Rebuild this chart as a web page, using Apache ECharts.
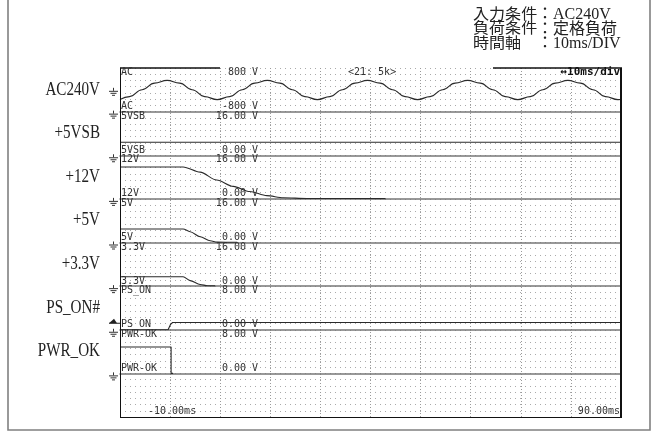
<!DOCTYPE html>
<html><head><meta charset="utf-8">
<script src="https://cdn.jsdelivr.net/npm/echarts@6/dist/echarts.min.js"></script>
<style>html,body{margin:0;padding:0;background:#fff}#c{width:654px;height:432px}</style>
</head><body><div id="c"></div>
<script>
// ---------------- data ----------------
const channelNames = ['AC240V', '+5VSB', '+12V', '+5V', '+3.3V', 'PS_ON#', 'PWR_OK'];
const scopeTags = ['AC', '5VSB', '12V', '5V', '3.3V', 'PS_ON', 'PWR-OK'];
const scaleTopLabels = ['800 V', '16.00 V', '16.00 V', '16.00 V', '16.00 V', '8.00 V', '8.00 V'];
const scaleBottomLabels = ['-800 V', '0.00 V', '0.00 V', '0.00 V', '0.00 V', '0.00 V', '0.00 V'];
const scaleMin = [-800, 0, 0, 0, 0, 0, 0];
const scaleMax = [800, 16, 16, 16, 16, 8, 8];
const timeTickLabels = ['-10.00ms', '90.00ms'];
const conditionLabels = ['入力条件', '負荷条件', '時間軸'];
const conditionValues = ['：AC240V', '：定格負荷', '：10ms/DIV'];
const sampleInfo = '<21: 5k>';
const timeDivLabel = '\u219410ms/div';

// time (ms) / voltage (V)
const acTime = [-10, -8.1, -5.6, -3.1, -0.6, 1.9, 4.4, 6.9, 9.4, 11.9, 14.4, 16.9, 19.4, 21.9, 24.4, 26.9, 29.4, 31.9, 34.4, 36.9, 39.4, 41.9, 44.4, 46.9, 49.4, 51.9, 54.4, 56.9, 59.4, 61.9, 64.4, 66.9, 69.4, 71.9, 74.4, 76.9, 79.4, 81.9, 84.4, 86.9, 89.4, 90];
const acVolt = [-355, -250, 0, 245, 345, 245, 0, -250, -360, -250, 0, 245, 345, 245, 0, -250, -360, -250, 0, 245, 345, 245, 0, -250, -360, -250, 0, 245, 345, 245, 0, -250, -360, -250, 0, 245, 345, 245, 0, -250, -360, -355];

const vsbTime = [-10, 90];
const vsbVolt = [4.75, 4.75];

const v12Time = [-10, 2.6, 6.0, 9.3, 12.6, 15.9, 19.3, 22.6, 27.3, 43.0];
const v12Volt = [11.7, 11.7, 9.8, 6.9, 4.6, 2.7, 1.2, 0.4, 0.15, 0.1];

const v5Time = [-10, 2.6, 4.0, 6.0, 8.0, 9.4, 13.4];
const v5Volt = [4.95, 4.95, 3.96, 2.1, 0.62, 0.12, 0.08];

const v33Time = [-10, 2.6, 4.0, 6.0, 7.5, 9.0];
const v33Volt = [3.45, 3.45, 2.03, 0.6, 0.15, 0.1];

const psTime = [-10, -0.4, 0.1, 0.5, 90];
const psVolt = [0, 0, 1.0, 1.33, 1.33];

const pwrTime = [-10, 0.2, 0.2, 0.6];
const pwrVolt = [4.84, 4.84, 0, 0];

// ---------------- layout ----------------
const PL = 120, PR = 621, PT = 68, PB = 417;
const bandH = (PB - PT) / 8;
const bands = [0, 1, 2, 3, 4, 5, 6].map(k => [PT + k * bandH, PT + (k + 1) * bandH]);

const pairs = (t, v) => t.map((x, i) => [x, v[i]]);
const traces = [
  { d: pairs(acTime, acVolt), smooth: 0.45 },
  { d: pairs(vsbTime, vsbVolt), smooth: false },
  { d: pairs(v12Time, v12Volt), smooth: 0.3 },
  { d: pairs(v5Time, v5Volt), smooth: 0.3 },
  { d: pairs(v33Time, v33Volt), smooth: 0.3 },
  { d: pairs(psTime, psVolt), smooth: false },
  { d: pairs(pwrTime, pwrVolt), smooth: false }
];

const grid = [{ left: PL, top: PT, width: PR - PL, height: PB - PT }];
const xAxis = [{
  gridIndex: 0, type: 'value', min: -10, max: 90, interval: 10,
  axisLine: { show: false }, axisTick: { show: false }, axisLabel: { show: false },
  splitLine: { show: true, lineStyle: { color: '#9a9a9a', width: 1, type: [1, 2] } }
}];
const yAxis = [{
  gridIndex: 0, type: 'value', min: 0, max: 56, interval: 1,
  axisLine: { show: false }, axisTick: { show: false }, axisLabel: { show: false },
  splitLine: { show: true, lineStyle: { color: '#aaaaaa', width: 1, type: [1, 4] } }
}];
const series = [];
bands.forEach((b, i) => {
  grid.push({ left: PL, top: b[0], width: PR - PL, height: b[1] - b[0] });
  xAxis.push({
    gridIndex: i + 1, type: 'value', min: -10, max: 90,
    axisLine: { show: true, onZero: false, lineStyle: { color: '#777', width: 1.5 } },
    axisTick: { show: false }, axisLabel: { show: false }, splitLine: { show: false }
  });
  yAxis.push({ gridIndex: i + 1, type: 'value', min: scaleMin[i], max: scaleMax[i], show: false });
  series.push({
    type: 'line', xAxisIndex: i + 1, yAxisIndex: i + 1, data: traces[i].d,
    smooth: traces[i].smooth, smoothMonotone: 'x', showSymbol: false, symbol: 'none',
    lineStyle: { color: '#2a2a2a', width: 1.1 }, z: 5
  });
});

// ---------------- graphic decorations ----------------
const g = [];
const mono = '10px "DejaVu Sans Mono"';
function txt(x, y, s, opt, extra) {
  g.push(Object.assign({ type: 'text', x: x, y: y, z: 20,
    style: Object.assign({ text: s, font: mono, fill: '#333', textAlign: 'left', textVerticalAlign: 'middle' }, opt || {}) }, extra || {}));
}
function line(x1, y1, x2, y2, stroke, w) {
  g.push({ type: 'line', z: 15, shape: { x1: x1, y1: y1, x2: x2, y2: y2 }, style: { stroke: stroke, lineWidth: w } });
}
// outer frame
g.push({ type: 'rect', z: 1, shape: { x: 8, y: -3, width: 642, height: 433 }, style: { fill: null, stroke: '#808080', lineWidth: 1.6 } });
// plot border
line(PL + 0.5, PT, PL + 0.5, PB, '#111', 1);
line(PL, PB + 0.5, PR, PB + 0.5, '#111', 1);
line(PR, PT, PR, PB + 1, '#111', 2);
line(PL, PT, 220, PT, '#111', 1.5);
line(493, PT, PR + 1, PT, '#111', 1.5);
// condition text (top right)
const condFont = '15px "Liberation Serif", "Noto Sans CJK JP"';
conditionLabels.forEach((s, i) => {
  txt(473, 15 + i * 14.3, s, { font: condFont, fill: '#222' }, { scaleX: 1.07 });
  txt(537, 15 + i * 14.3, conditionValues[i], { font: '16px "Liberation Serif", "Noto Sans CJK JP"', fill: '#222' });
});
// left channel names (centred on each band)
channelNames.forEach((s, i) => {
  txt(100, (bands[i][0] + bands[i][1]) / 2, s, { font: '18px "Liberation Serif"', fill: '#222', textAlign: 'right' }, { scaleX: 0.84 });
});
// in-plot scope labels
bands.forEach((b, i) => {
  txt(121, b[0] + 4.5, scopeTags[i]);
  txt(258, b[0] + 4.5, scaleTopLabels[i], { textAlign: 'right' });
  txt(121, b[1] - 5, scopeTags[i]);
  txt(258, b[1] - 5, scaleBottomLabels[i], { textAlign: 'right' });
});
txt(348, 72.5, sampleInfo);
txt(620, 72.5, timeDivLabel, { textAlign: 'right', font: 'bold 11px "DejaVu Sans Mono"', fill: '#111' });
txt(148, 411, timeTickLabels[0]);
txt(620, 411, timeTickLabels[1], { textAlign: 'right' });
// ground markers
const groundY = [PT + bandH / 2 + 1].concat(bands.map(b => b[1] + 2));
groundY.forEach(y => {
  line(113.5, y - 3, 113.5, y, '#333', 1);
  line(109, y + 0.5, 118, y + 0.5, '#333', 1);
  line(110.5, y + 2.5, 116.5, y + 2.5, '#333', 1);
  line(112, y + 4.5, 115, y + 4.5, '#333', 1);
});
// trigger marker at PS_ON
const trgY = bands[5][1] - 6.5;
g.push({ type: 'polygon', z: 15, shape: { points: [[109, trgY], [114, trgY - 4.5], [117, trgY]] }, style: { fill: '#222' } });
line(109, trgY, 120, trgY, '#222', 1);

const chart = echarts.init(document.getElementById('c'), null, { renderer: 'canvas' });
chart.setOption({
  animation: false,
  backgroundColor: '#fff',
  grid: grid, xAxis: xAxis, yAxis: yAxis, series: series, graphic: g
});
</script>
</body></html>
